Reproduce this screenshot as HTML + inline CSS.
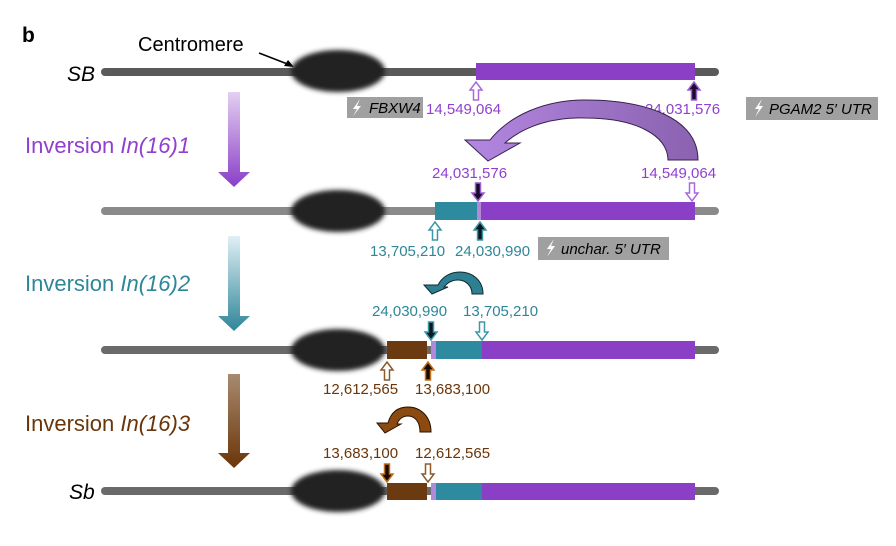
<!DOCTYPE html>
<html><head><meta charset="utf-8"><style>
html,body{margin:0;padding:0;background:#fff;}
svg{display:block;font-family:"Liberation Sans",sans-serif;}
</style></head><body>
<svg width="896" height="546" viewBox="0 0 896 546" xmlns="http://www.w3.org/2000/svg">
<defs>
<filter id="blur" x="-20%" y="-40%" width="140%" height="180%"><feGaussianBlur stdDeviation="2.5"/></filter>
<linearGradient id="g1" x1="0" y1="0" x2="0" y2="1"><stop offset="0" stop-color="#e4d0f2"/><stop offset="1" stop-color="#8a3ec8"/></linearGradient>
<linearGradient id="g2" x1="0" y1="0" x2="0" y2="1"><stop offset="0" stop-color="#e0f0f5"/><stop offset="1" stop-color="#2e8699"/></linearGradient>
<linearGradient id="g3" x1="0" y1="0" x2="0" y2="1"><stop offset="0" stop-color="#a88a70"/><stop offset="1" stop-color="#6a3508"/></linearGradient>
<linearGradient id="ga" x1="0" y1="0" x2="1" y2="0"><stop offset="0" stop-color="#b387e0"/><stop offset="1" stop-color="#8a62b0"/></linearGradient>
<path id="up" d="M0,0 L6,8 L2.5,8 L2.5,18 L-2.5,18 L-2.5,8 L-6,8 Z"/>
<path id="dn" d="M0,0 L6,-8 L2.5,-8 L2.5,-18 L-2.5,-18 L-2.5,-8 L-6,-8 Z"/>
</defs>

<text x="22" y="42" font-size="21" font-weight="bold">b</text>
<text x="138" y="51" font-size="20">Centromere</text>
<line x1="259" y1="53" x2="290" y2="65" stroke="#000" stroke-width="1.5"/>
<path d="M294,67 L284,66 L288,60 Z" fill="#000"/>
<text x="67" y="81" font-size="21" font-style="italic">SB</text>
<text x="69" y="499" font-size="21" font-style="italic">Sb</text>

<g stroke-linecap="round" stroke-width="8">
<line x1="105" y1="72" x2="715" y2="72" stroke="#5a5a5a"/>
<line x1="105" y1="211" x2="715" y2="211" stroke="#8a8a8a"/>
<line x1="105" y1="350" x2="715" y2="350" stroke="#6a6a6a"/>
<line x1="105" y1="491" x2="715" y2="491" stroke="#6a6a6a"/>
</g>
<g fill="#222" filter="url(#blur)">
<ellipse cx="338" cy="71" rx="47" ry="21"/>
<ellipse cx="338" cy="211" rx="47" ry="21"/>
<ellipse cx="338" cy="350" rx="47" ry="21"/>
<ellipse cx="338" cy="491" rx="47" ry="21"/>
</g>

<rect x="476" y="63" width="219" height="17" fill="#8b3fc6"/>
<use href="#up" x="476" y="82" fill="#fff" stroke="#a76ad8" stroke-width="1.5"/>
<use href="#up" x="694" y="82" fill="#1a0a2a" stroke="#9b5fd0" stroke-width="1.5"/>
<g font-size="15" fill="#9040d0">
<text x="426" y="114">14,549,064</text>
<text x="645" y="114">24,031,576</text>
<text x="432" y="178">24,031,576</text>
<text x="641" y="178">14,549,064</text>
</g>
<rect x="347" y="97" width="76" height="21" fill="#a0a0a0"/>
<text x="369" y="113" font-size="15" font-style="italic">FBXW4</text>
<path d="M360,99 L353,109 L357,109 L353,116 L361,106 L357,106 Z" fill="#fff"/>
<rect x="746" y="97" width="132" height="23" fill="#a0a0a0"/>
<text x="769" y="114" font-size="15" font-style="italic">PGAM2 5′ UTR</text>
<path d="M762,99 L755,109 L759,109 L755,117 L763,106 L759,106 Z" fill="#fff"/>

<path d="M698,160 C698,120 650,100 585,100 C545,100 510,115 490,140 L465,140 L488,161 L520,143 L505,143 C525,125 555,117 585,118 C635,118 668,135 668,160 Z" fill="url(#ga)" stroke="#3a2050" stroke-width="1"/>

<path d="M228,92 H240 V172 H250 L234,187 L218,172 H228 Z" fill="url(#g1)"/>
<path d="M228,236 H240 V316 H250 L234,331 L218,316 H228 Z" fill="url(#g2)"/>
<path d="M228,374 H240 V453 H250 L234,468 L218,453 H228 Z" fill="url(#g3)"/>
<text x="25" y="153" font-size="22" fill="#9040d0">Inversion <tspan font-style="italic">In(16)1</tspan></text>
<text x="25" y="291" font-size="22" fill="#2e8699">Inversion <tspan font-style="italic">In(16)2</tspan></text>
<text x="25" y="431" font-size="22" fill="#6a3508">Inversion <tspan font-style="italic">In(16)3</tspan></text>

<rect x="435" y="202" width="42" height="18" fill="#2e8a9e"/>
<rect x="481" y="202" width="214" height="18" fill="#8b3fc6"/>
<path d="M477,202 H481 V220 H477 Z" fill="#b08ad8"/>
<use href="#dn" x="478" y="201" fill="#1a0a2a" stroke="#9b5fd0" stroke-width="1.5"/>
<use href="#dn" x="692" y="201" fill="#fff" stroke="#a76ad8" stroke-width="1.5"/>
<use href="#up" x="435" y="222" fill="#fff" stroke="#3a98aa" stroke-width="1.5"/>
<use href="#up" x="480" y="222" fill="#0a1a20" stroke="#3a98aa" stroke-width="1.5"/>
<g font-size="15" fill="#2e8699">
<text x="370" y="256">13,705,210</text>
<text x="455" y="256">24,030,990</text>
<text x="372" y="316">24,030,990</text>
<text x="463" y="316">13,705,210</text>
</g>
<rect x="538" y="237" width="131" height="23" fill="#a0a0a0"/>
<text x="561" y="254" font-size="15" font-style="italic">unchar. 5′ UTR</text>
<path d="M554,239 L547,249 L551,249 L547,257 L555,246 L551,246 Z" fill="#fff"/>

<path d="M483,294 C483,280 472,272 460,272 C450,272 442,277 438,285 L424,285 L432,294 L448,287 L444,287 C448,282 453,280 458,280 C466,280 472,286 472,294 Z" fill="#2e7f92" stroke="#102a30" stroke-width="1"/>

<rect x="387" y="341" width="40" height="18" fill="#6b3a10"/>
<rect x="431" y="341" width="5" height="18" fill="#b08ad8"/>
<rect x="436" y="341" width="46" height="18" fill="#2e8a9e"/>
<rect x="482" y="341" width="213" height="18" fill="#8b3fc6"/>
<use href="#dn" x="431" y="340" fill="#0a1a20" stroke="#3a98aa" stroke-width="1.5"/>
<use href="#dn" x="482" y="340" fill="#fff" stroke="#3a98aa" stroke-width="1.5"/>
<use href="#up" x="387" y="362" fill="#fff" stroke="#8a5a30" stroke-width="1.5"/>
<use href="#up" x="428" y="362" fill="#1a0a00" stroke="#c0701a" stroke-width="1.5"/>
<g font-size="15" fill="#6a3508">
<text x="323" y="394">12,612,565</text>
<text x="415" y="394">13,683,100</text>
<text x="323" y="458">13,683,100</text>
<text x="415" y="458">12,612,565</text>
</g>
<path d="M431,432 C431,416 420,407 408,407 C398,407 391,412 388,423 L377,423 L385,433 L401,424 L397,424 C399,419 403,416 408,416 C415,416 420,422 420,432 Z" fill="#8a4a10" stroke="#2a1000" stroke-width="1"/>

<rect x="387" y="483" width="40" height="17" fill="#6b3a10"/>
<rect x="431" y="483" width="5" height="17" fill="#b08ad8"/>
<rect x="436" y="483" width="46" height="17" fill="#2e8a9e"/>
<rect x="482" y="483" width="213" height="17" fill="#8b3fc6"/>
<use href="#dn" x="387" y="482" fill="#1a0a00" stroke="#c0701a" stroke-width="1.5"/>
<use href="#dn" x="428" y="482" fill="#fff" stroke="#8a5a30" stroke-width="1.5"/>
</svg>
</body></html>
